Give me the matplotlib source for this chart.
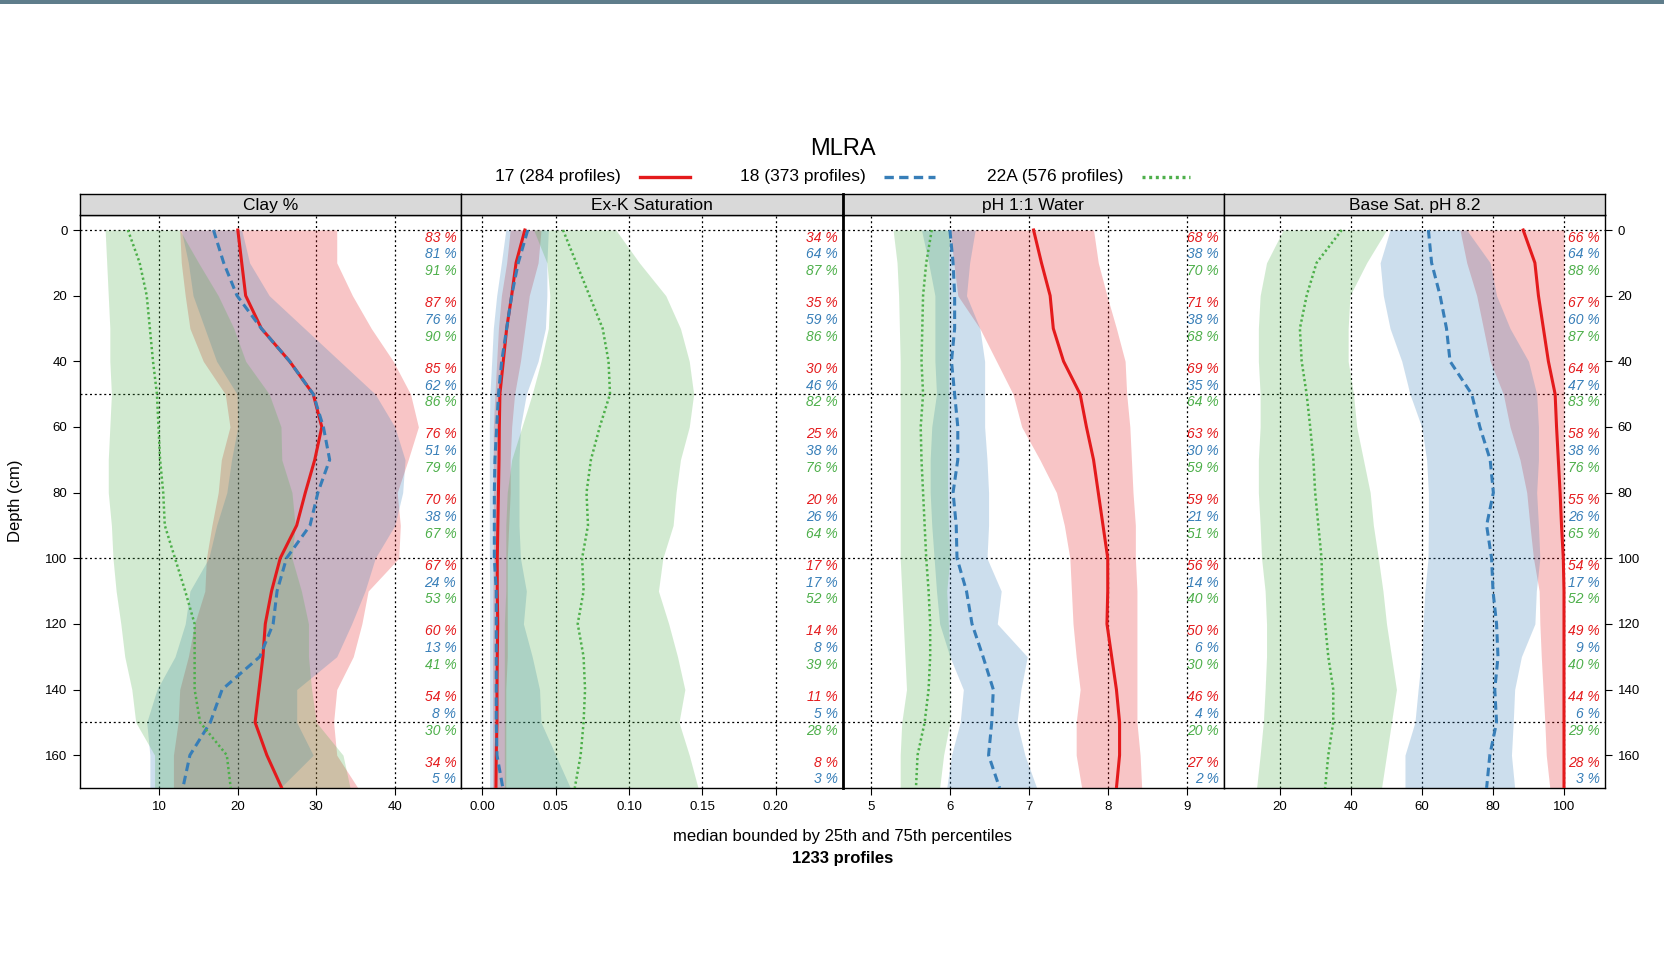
import matplotlib
matplotlib.use("Agg")
import matplotlib.pyplot as plt
import matplotlib.transforms as mtrans
from matplotlib.lines import Line2D
from matplotlib.patches import Rectangle

plt.rcParams['font.family'] = ['Liberation Sans', 'DejaVu Sans']

# depth (cm) at which the profiles were read
depth = [0, 10, 20, 30, 40, 50, 60, 70, 80, 90, 100, 110, 120, 130, 140, 150, 160, 170]

groups = ["17", "18", "22A"]
n_profiles = [284, 373, 576]
colors = ["#E41A1C", "#377EB8", "#4DAF4A"]

# Clay %
clay_17_lo = [12.6, 12.8, 13.3, 13.9, 15.6, 18.4, 19.0, 17.9, 17.5, 16.7, 16.0, 15.8, 14.5, 13.7, 12.6, 12.4, 11.8, 11.8]
clay_17_md = [20.0, 20.5, 21.0, 23.0, 26.6, 29.6, 30.7, 29.8, 28.6, 27.5, 25.4, 24.3, 23.5, 23.2, 22.7, 22.2, 23.7, 25.6]
clay_17_hi = [32.6, 32.6, 34.6, 37.0, 39.8, 42.0, 43.0, 41.7, 40.3, 40.7, 40.5, 36.6, 35.8, 34.7, 32.6, 32.2, 32.6, 35.3]
clay_18_lo = [12.8, 13.7, 14.3, 15.8, 17.3, 19.9, 20.0, 19.2, 18.6, 17.3, 16.3, 13.9, 13.3, 12.0, 9.7, 8.4, 8.8, 8.8]
clay_18_md = [16.9, 18.2, 19.9, 23.0, 26.6, 29.6, 30.9, 31.7, 30.2, 29.2, 26.2, 25.0, 24.5, 22.8, 18.0, 16.5, 13.9, 13.0]
clay_18_hi = [20.5, 21.5, 24.0, 28.5, 33.0, 37.5, 40.0, 41.3, 41.0, 40.0, 37.5, 36.2, 34.5, 32.6, 27.5, 27.5, 29.6, 25.4]
clay_22_lo = [3.1, 3.3, 3.5, 3.7, 3.7, 3.9, 3.7, 3.5, 3.5, 3.9, 4.1, 4.5, 5.1, 5.6, 6.5, 7.0, 9.4, 9.4]
clay_22_md = [6.0, 7.5, 8.4, 8.8, 9.2, 9.7, 9.9, 10.1, 10.5, 10.7, 12.0, 13.3, 14.5, 14.5, 14.5, 15.2, 18.6, 19.1]
clay_22_hi = [12.6, 15.0, 17.5, 19.5, 21.0, 24.0, 25.5, 25.6, 26.9, 27.3, 26.9, 28.1, 29.0, 29.0, 29.4, 30.0, 33.4, 34.3]

# Ex-K saturation
exk_17_lo = [0.019, 0.0166, 0.013, 0.011, 0.0098, 0.0086, 0.0075, 0.0075, 0.0075, 0.0075, 0.0075, 0.0072, 0.0072, 0.007, 0.007, 0.007, 0.007, 0.007]
exk_17_md = [0.029, 0.023, 0.020, 0.0166, 0.0143, 0.012, 0.0116, 0.0114, 0.011, 0.0106, 0.0102, 0.0102, 0.0105, 0.0102, 0.010, 0.010, 0.0095, 0.0093]
exk_17_hi = [0.040, 0.038, 0.032, 0.029, 0.026, 0.022, 0.020, 0.019, 0.019, 0.018, 0.017, 0.017, 0.017, 0.017, 0.016, 0.016, 0.016, 0.016]
exk_18_lo = [0.016, 0.013, 0.0098, 0.0075, 0.0064, 0.0052, 0.0048, 0.0048, 0.0048, 0.0048, 0.0048, 0.005, 0.005, 0.005, 0.005, 0.005, 0.005, 0.005]
exk_18_md = [0.031, 0.0245, 0.020, 0.0166, 0.0132, 0.011, 0.0098, 0.0086, 0.0082, 0.0082, 0.0082, 0.0095, 0.0095, 0.0095, 0.0095, 0.0095, 0.010, 0.014]
exk_18_hi = [0.045, 0.044, 0.044, 0.043, 0.038, 0.030, 0.026, 0.025, 0.025, 0.025, 0.026, 0.030, 0.028, 0.034, 0.039, 0.040, 0.050, 0.060]
exk_22_lo = [0.035, 0.044, 0.046, 0.045, 0.040, 0.034, 0.027, 0.020, 0.017, 0.016, 0.016, 0.016, 0.015, 0.015, 0.015, 0.015, 0.015, 0.015]
exk_22_md = [0.055, 0.064, 0.073, 0.082, 0.086, 0.087, 0.080, 0.074, 0.071, 0.072, 0.068, 0.069, 0.065, 0.069, 0.070, 0.069, 0.067, 0.063]
exk_22_hi = [0.091, 0.107, 0.125, 0.135, 0.141, 0.144, 0.141, 0.135, 0.132, 0.130, 0.123, 0.120, 0.127, 0.133, 0.138, 0.134, 0.141, 0.147]

# pH 1:1 water
ph_17_lo = [6.00, 6.05, 6.10, 6.38, 6.59, 6.80, 6.91, 7.14, 7.35, 7.45, 7.52, 7.54, 7.56, 7.60, 7.65, 7.60, 7.60, 7.67]
ph_17_md = [7.06, 7.16, 7.27, 7.31, 7.44, 7.65, 7.73, 7.82, 7.88, 7.94, 8.00, 8.00, 7.99, 8.05, 8.11, 8.15, 8.15, 8.11]
ph_17_hi = [7.82, 7.88, 7.99, 8.11, 8.22, 8.24, 8.28, 8.30, 8.32, 8.35, 8.35, 8.37, 8.37, 8.37, 8.37, 8.37, 8.41, 8.43]
ph_18_lo = [5.64, 5.73, 5.81, 5.81, 5.81, 5.83, 5.77, 5.75, 5.75, 5.77, 5.80, 5.83, 5.87, 6.00, 6.17, 6.13, 6.02, 5.96]
ph_18_md = [6.00, 6.04, 6.06, 6.06, 6.02, 6.06, 6.10, 6.10, 6.04, 6.08, 6.09, 6.21, 6.28, 6.42, 6.55, 6.53, 6.49, 6.63]
ph_18_hi = [6.32, 6.25, 6.21, 6.38, 6.44, 6.44, 6.44, 6.47, 6.49, 6.49, 6.47, 6.65, 6.60, 6.98, 6.90, 6.85, 6.95, 7.10]
ph_22_lo = [5.28, 5.33, 5.35, 5.36, 5.37, 5.37, 5.37, 5.37, 5.37, 5.37, 5.37, 5.39, 5.41, 5.43, 5.45, 5.39, 5.37, 5.37]
ph_22_md = [5.77, 5.70, 5.66, 5.65, 5.64, 5.66, 5.63, 5.64, 5.66, 5.68, 5.70, 5.73, 5.75, 5.75, 5.73, 5.68, 5.59, 5.57]
ph_22_hi = [6.00, 5.98, 5.98, 5.98, 5.98, 5.98, 5.97, 5.97, 5.97, 5.98, 6.00, 5.96, 5.98, 6.00, 6.00, 6.00, 5.92, 5.87]

# Base sat. pH 8.2
bs_17_lo = [70.7, 72.6, 75.4, 77.3, 79.2, 82.9, 84.8, 87.6, 89.5, 90.4, 91.4, 93.0, 93.2, 93.6, 94.1, 94.6, 95.0, 96.0]
bs_17_md = [88.5, 91.8, 92.8, 94.2, 95.6, 97.5, 97.9, 98.4, 98.9, 99.3, 99.8, 100, 100, 100, 100, 100, 100, 100]
bs_17_hi = [100, 100, 100, 100, 100, 100, 100, 100, 100, 100, 100, 100, 100, 100, 100, 100, 100, 100]
bs_18_lo = [51.0, 48.2, 49.1, 51.0, 54.3, 56.6, 59.9, 61.3, 61.8, 61.8, 61.7, 60.8, 60.3, 59.9, 58.9, 58.0, 55.2, 55.2]
bs_18_md = [61.8, 62.7, 65.1, 66.9, 67.9, 74.0, 76.3, 79.2, 80.1, 78.2, 79.6, 80.0, 81.0, 81.4, 80.5, 81.0, 79.1, 78.2]
bs_18_hi = [72.6, 79.2, 81.0, 84.8, 90.0, 92.3, 92.8, 92.8, 92.3, 92.8, 93.2, 92.2, 91.8, 88.0, 86.1, 85.7, 85.2, 86.1]
bs_22_lo = [20.9, 16.2, 14.4, 13.9, 13.9, 14.4, 14.4, 13.9, 13.9, 14.4, 14.8, 15.8, 16.2, 16.2, 15.8, 15.3, 14.4, 13.4]
bs_22_md = [37.4, 30.3, 27.5, 25.6, 26.1, 27.5, 28.5, 29.4, 29.9, 30.8, 31.7, 31.9, 32.7, 33.6, 35.0, 35.0, 33.6, 32.7]
bs_22_hi = [50.0, 44.4, 39.7, 39.2, 39.2, 40.7, 41.6, 43.5, 45.4, 46.3, 47.7, 49.0, 50.0, 51.4, 52.8, 51.4, 50.0, 48.6]

# contributing fraction (%) per 20 cm slice
cf_clay = [[83, 87, 85, 76, 70, 67, 60, 54, 34], [81, 76, 62, 51, 38, 24, 13, 8, 5], [91, 90, 86, 79, 67, 53, 41, 30]]
cf_exk = [[34, 35, 30, 25, 20, 17, 14, 11, 8], [64, 59, 46, 38, 26, 17, 8, 5, 3], [87, 86, 82, 76, 64, 52, 39, 28]]
cf_ph = [[68, 71, 69, 63, 59, 56, 50, 46, 27], [38, 38, 35, 30, 21, 14, 6, 4, 2], [70, 68, 64, 59, 51, 40, 30, 20]]
cf_bs = [[66, 67, 64, 58, 55, 54, 49, 44, 28], [64, 60, 47, 38, 26, 17, 9, 6, 3], [88, 87, 83, 76, 65, 52, 40, 29]]
cf_top = [0, 20, 40, 60, 80, 100, 120, 140, 160]

panels = [
    ("Clay %", (-0.1, 48.46), [10, 20, 30, 40], ["10", "20", "30", "40"],
     [(clay_17_lo, clay_17_md, clay_17_hi), (clay_18_lo, clay_18_md, clay_18_hi), (clay_22_lo, clay_22_md, clay_22_hi)], cf_clay),
    ("Ex-K Saturation", (-0.01434, 0.2454), [0, 0.05, 0.10, 0.15, 0.20], ["0.00", "0.05", "0.10", "0.15", "0.20"],
     [(exk_17_lo, exk_17_md, exk_17_hi), (exk_18_lo, exk_18_md, exk_18_hi), (exk_22_lo, exk_22_md, exk_22_hi)], cf_exk),
    ("pH 1:1 Water", (4.639, 9.47), [5, 6, 7, 8, 9], ["5", "6", "7", "8", "9"],
     [(ph_17_lo, ph_17_md, ph_17_hi), (ph_18_lo, ph_18_md, ph_18_hi), (ph_22_lo, ph_22_md, ph_22_hi)], cf_ph),
    ("Base Sat. pH 8.2", (4.15, 111.55), [20, 40, 60, 80, 100], ["20", "40", "60", "80", "100"],
     [(bs_17_lo, bs_17_md, bs_17_hi), (bs_18_lo, bs_18_md, bs_18_hi), (bs_22_lo, bs_22_md, bs_22_hi)], cf_bs),
]

line_styles = ["-", (0, (2.8, 1.6)), (0, (0.9, 1.1))]
line_widths = [2.2, 2.2, 1.8]

W, H = 1664, 977
fig = plt.figure(figsize=(W / 100, H / 100), dpi=100)

# thin band at the top of the image
fig.patches.append(Rectangle((0, 1 - 4 / H), 1, 4 / H, transform=fig.transFigure,
                             facecolor="#5f7d8b", edgecolor="none"))

x0, x1 = 80, 1605
pw = (x1 - x0) / 4
ybot, ytop, strip_top = 788, 215, 194

for i, (title, xlim, ticks, tlabels, data, cf) in enumerate(panels):
    left = x0 + i * pw
    ax = fig.add_axes([left / W, 1 - ybot / H, pw / W, (ybot - ytop) / H])
    ax.set_xlim(*xlim)
    ax.set_ylim(170, -4.57)

    # dotted reference grid
    for t in ticks:
        ax.axvline(t, color="black", lw=0.9, ls=(0, (1.6, 2.2)), zorder=0.5)
    for d in [0, 50, 100, 150]:
        ax.axhline(d, color="black", lw=0.9, ls=(0, (1.6, 2.2)), zorder=0.5)

    for (lo, md, hi), c in zip(data, colors):
        ax.fill_betweenx(depth, lo, hi, color=c, alpha=0.25, lw=0, zorder=1)
    for (lo, md, hi), c, ls, lw in zip(data, colors, line_styles, line_widths):
        ax.plot(md, depth, color=c, ls=ls, lw=lw, zorder=3)

    # contributing fraction labels
    trans = mtrans.blended_transform_factory(ax.transAxes, ax.transData)
    for g, (vals, c) in enumerate(zip(cf, colors)):
        for k, v in enumerate(vals):
            ax.text(1 - 5 / pw, cf_top[k] + 2.3 + 5.1 * g, f"{v} %", transform=trans,
                    ha="right", va="center", color=c, fontsize=10, style="italic",
                    zorder=4, clip_on=True)

    ax.set_xticks(ticks)
    ax.set_xticklabels(tlabels)
    ax.tick_params(axis="x", direction="out", length=5, width=0.8, labelsize=9.5, pad=4)
    ax.set_yticks(range(0, 161, 20))
    if i == 0:
        ax.tick_params(axis="y", left=True, right=False, labelleft=True, labelright=False,
                       direction="out", length=5, width=0.8, labelsize=9.5, pad=4)
    elif i == 3:
        ax.tick_params(axis="y", left=False, right=True, labelleft=False, labelright=True,
                       direction="out", length=5, width=0.8, labelsize=9.5, pad=4)
    else:
        ax.tick_params(axis="y", left=False, right=False, labelleft=False, labelright=False)
    for s in ax.spines.values():
        s.set_linewidth(1.0)
    if i == 2:
        ax.spines["left"].set_linewidth(2.0)

    # strip with the variable name
    sax = fig.add_axes([left / W, 1 - ytop / H, pw / W, (ytop - strip_top) / H])
    sax.set_facecolor("#d9d9d9")
    sax.set_xticks([])
    sax.set_yticks([])
    for s in sax.spines.values():
        s.set_linewidth(1.0)
    if i == 2:
        sax.spines["left"].set_linewidth(2.0)
    sax.text(0.5, 0.45, title, ha="center", va="center", fontsize=12.5, transform=sax.transAxes)

# title and legend
cx = 843 / W
fig.text(cx, 1 - 149 / H, "MLRA", ha="center", va="center", fontsize=17)
text_right = [621, 866, 1123]
line_span = [(640, 690), (884, 935), (1142, 1190)]
leg_y = 1 - 177 / H
for g, n, c, ls, tr, (la, lb) in zip(groups, n_profiles, colors, line_styles, text_right, line_span):
    fig.text(tr / W, leg_y, f"{g} ({n} profiles)", ha="right", va="center", fontsize=12.5)
    fig.add_artist(Line2D([la / W, lb / W], [leg_y, leg_y], transform=fig.transFigure,
                          color=c, ls=ls, lw=2.4))

fig.text(cx, 1 - 837 / H, "median bounded by 25th and 75th percentiles", ha="center", va="center", fontsize=12)
fig.text(cx, 1 - 859 / H, f"{sum(n_profiles)} profiles", ha="center", va="center", fontsize=12, fontweight="bold")
fig.text(16 / W, 1 - 501 / H, "Depth (cm)", ha="center", va="center", rotation=90, fontsize=12)

fig.savefig("out.png", dpi=100)
